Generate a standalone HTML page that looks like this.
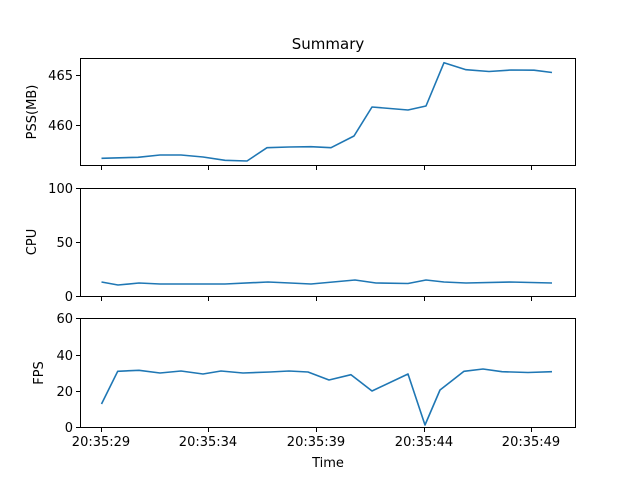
<!DOCTYPE html>
<html><head><meta charset="utf-8"><style>body{margin:0;background:#fff}svg{display:block}</style></head><body>
<svg width="640" height="480" xmlns="http://www.w3.org/2000/svg" font-family="DejaVu Sans, Liberation Sans, sans-serif" font-size="13" fill="#000">
<rect width="640" height="480" fill="#fff"/>
<text x="328" y="49" text-anchor="middle" font-size="15">Summary</text>
<g fill="none" stroke="#000" stroke-width="1">
<rect x="80.5" y="58.5" width="495" height="107"/>
<rect x="80.5" y="188.5" width="495" height="108"/>
<rect x="80.5" y="318.5" width="495" height="109"/>
<path d="M76 75.5h4M76 125.5h4M76 188.5h4M76 242.5h4M76 296.5h4M76 318.5h4M76 355.5h4M76 391.5h4M76 427.5h4"/>
<path d="M101.5 166v4M208.5 166v4M316.5 166v4M424.5 166v4M531.5 166v4M101.5 297v4M208.5 297v4M316.5 297v4M424.5 297v4M531.5 297v4M101.5 428v4M208.5 428v4M316.5 428v4M424.5 428v4M531.5 428v4"/>
</g>
<g text-anchor="end" font-size="13">
<text x="73" y="80">465</text><text x="73" y="130">460</text>
<text x="73" y="193">100</text><text x="73" y="247">50</text><text x="73" y="301">0</text>
<text x="73" y="323">60</text><text x="73" y="360">40</text><text x="73" y="396">20</text><text x="73" y="432">0</text>
</g>
<g text-anchor="middle">
<text x="101" y="446">20:35:29</text><text x="208" y="446">20:35:34</text><text x="316" y="446">20:35:39</text><text x="424" y="446">20:35:44</text><text x="531" y="446">20:35:49</text>
<text x="328" y="467">Time</text>
<text transform="translate(36,112) rotate(-90)">PSS(MB)</text>
<text transform="translate(36,242) rotate(-90)">CPU</text>
<text transform="translate(43,373) rotate(-90)">FPS</text>
</g>
<g fill="none" stroke="#1f77b4" stroke-width="1.6" stroke-linejoin="round">
<polyline points="101.5,158.3 138,157.3 160,155 181,155 203,157 225,160.3 247,161 267,147.7 289,147 311,146.7 331,147.7 354,136 372,107 408,110 426,106 444,62.7 466,69.7 489,71.5 511,70 534,70.2 552,72.5"/>
<polyline points="101.5,282 118,285 139,283 160,284 203,284 225,284 268,282 290,283 311,284 333,282 355,280 376,283 408,283.5 426,280 444,282 466,283 510,282 531,282.5 552,283"/>
<polyline points="101.5,404 117.7,371.3 139,370.3 160,373 181,371 203,374 221,371 243,373 270,372 289,371 308,372 329,380 351,374.7 372,391 408,374 425,425 440,390 464,371.3 483,369 502,371.7 528,372.5 552,371.7"/>
</g>
</svg>
</body></html>
